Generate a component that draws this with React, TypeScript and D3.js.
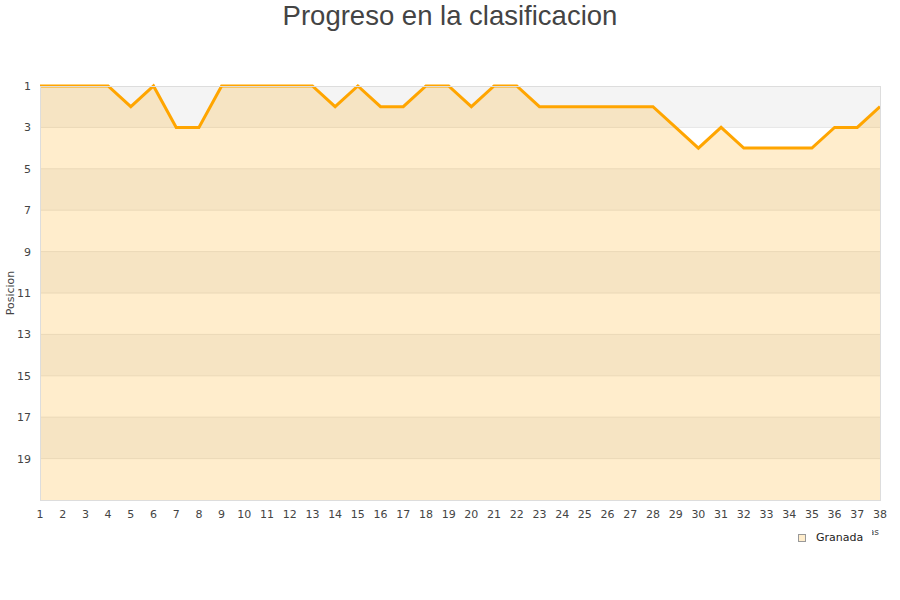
import { useEffect, useRef } from "react";
import * as d3 from "d3";

const jornadas: number[] = d3.range(1, 39);
const posiciones: number[] = [
  1, 1, 1, 1, 2, 1, 3, 3, 1, 1, 1, 1, 1, 2, 1, 2, 2, 1, 1, 2,
  1, 1, 2, 2, 2, 2, 2, 2, 3, 4, 3, 4, 4, 4, 4, 3, 3, 2,
];
const yTicks: number[] = [1, 3, 5, 7, 9, 11, 13, 15, 17, 19];
const equipo = "Granada";

export default function App() {
  const ref = useRef<SVGSVGElement>(null);

  useEffect(() => {
    const W = 900;
    const H = 600;
    const left = 40;
    const right = 880;
    const top = 86;
    const bottom = 500;

    const svg = d3.select(ref.current).attr("width", W).attr("height", H);
    svg.selectAll("*").remove();

    const x = d3.scaleLinear().domain([1, 38]).range([left, right]);
    const y = d3.scaleLinear().domain([1, 21]).range([top, bottom]);

    // alternating background bands
    const bands = d3.range(1, 21, 2);
    svg
      .append("g")
      .selectAll("rect")
      .data(bands)
      .enter()
      .append("rect")
      .attr("x", left)
      .attr("width", right - left)
      .attr("y", (d) => y(d))
      .attr("height", (d) => y(d + 2) - y(d))
      .attr("fill", (d, i) => (i % 2 === 0 ? "#f4f4f4" : "#ffffff"));

    // grid lines
    svg
      .append("g")
      .selectAll("line")
      .data(yTicks.slice(1))
      .enter()
      .append("line")
      .attr("x1", left)
      .attr("x2", right)
      .attr("y1", (d) => y(d))
      .attr("y2", (d) => y(d))
      .attr("stroke", "#e6e6e6")
      .attr("stroke-width", 1);

    const data = jornadas.map((j, i) => ({ j, p: posiciones[i] }));

    const area = d3
      .area<{ j: number; p: number }>()
      .x((d) => x(d.j))
      .y0(bottom)
      .y1((d) => y(d.p));
    svg
      .append("path")
      .datum(data)
      .attr("d", area)
      .attr("fill", "#ffa500")
      .attr("fill-opacity", 0.2);

    const line = d3
      .line<{ j: number; p: number }>()
      .x((d) => x(d.j))
      .y((d) => y(d.p));
    svg
      .append("path")
      .datum(data)
      .attr("d", line)
      .attr("fill", "none")
      .attr("stroke", "#ffa500")
      .attr("stroke-width", 3);

    // plot border
    svg
      .append("rect")
      .attr("x", left + 0.5)
      .attr("y", top + 0.5)
      .attr("width", right - left)
      .attr("height", bottom - top)
      .attr("fill", "none")
      .attr("stroke", "#dddddd");

    const font = "DejaVu Sans, sans-serif";

    // y tick labels
    svg
      .append("g")
      .selectAll("text")
      .data(yTicks)
      .enter()
      .append("text")
      .attr("x", 31)
      .attr("y", (d) => y(d) + 4)
      .attr("text-anchor", "end")
      .attr("font-family", font)
      .attr("font-size", 11)
      .attr("fill", "#444")
      .text((d) => d);

    // x tick labels
    svg
      .append("g")
      .selectAll("text")
      .data(jornadas)
      .enter()
      .append("text")
      .attr("x", (d) => x(d))
      .attr("y", 518)
      .attr("text-anchor", "middle")
      .attr("font-family", font)
      .attr("font-size", 11)
      .attr("fill", "#444")
      .text((d) => d);

    // y axis title
    svg
      .append("text")
      .attr("transform", `translate(14,${(top + bottom) / 2}) rotate(-90)`)
      .attr("text-anchor", "middle")
      .attr("font-family", font)
      .attr("font-size", 11)
      .attr("fill", "#444")
      .text("Posicion");

    // x axis title, mostly hidden behind legend
    svg
      .append("text")
      .attr("x", 879)
      .attr("y", 535)
      .attr("text-anchor", "end")
      .attr("font-family", font)
      .attr("font-size", 9)
      .attr("fill", "#444")
      .text("Jornadas");

    // legend
    const lg = svg.append("g");
    lg.append("rect")
      .attr("x", 790)
      .attr("y", 528)
      .attr("width", 82)
      .attr("height", 22)
      .attr("fill", "#ffffff");
    lg.append("rect")
      .attr("x", 798.5)
      .attr("y", 534.5)
      .attr("width", 7)
      .attr("height", 7)
      .attr("fill", "#ffedcc")
      .attr("stroke", "#999");
    lg.append("text")
      .attr("x", 816)
      .attr("y", 541)
      .attr("font-family", font)
      .attr("font-size", 11)
      .attr("fill", "#222")
      .text(equipo);

    // title
    svg
      .append("text")
      .attr("x", W / 2)
      .attr("y", 25)
      .attr("text-anchor", "middle")
      .attr("font-family", "Liberation Sans, Arial, sans-serif")
      .attr("font-size", 27.5)
      .attr("fill", "#444")
      .text("Progreso en la clasificacion");
  }, []);

  return (
    <svg
      ref={ref}
      style={{ position: "absolute", left: 0, top: 0, display: "block" }}
    />
  );
}
